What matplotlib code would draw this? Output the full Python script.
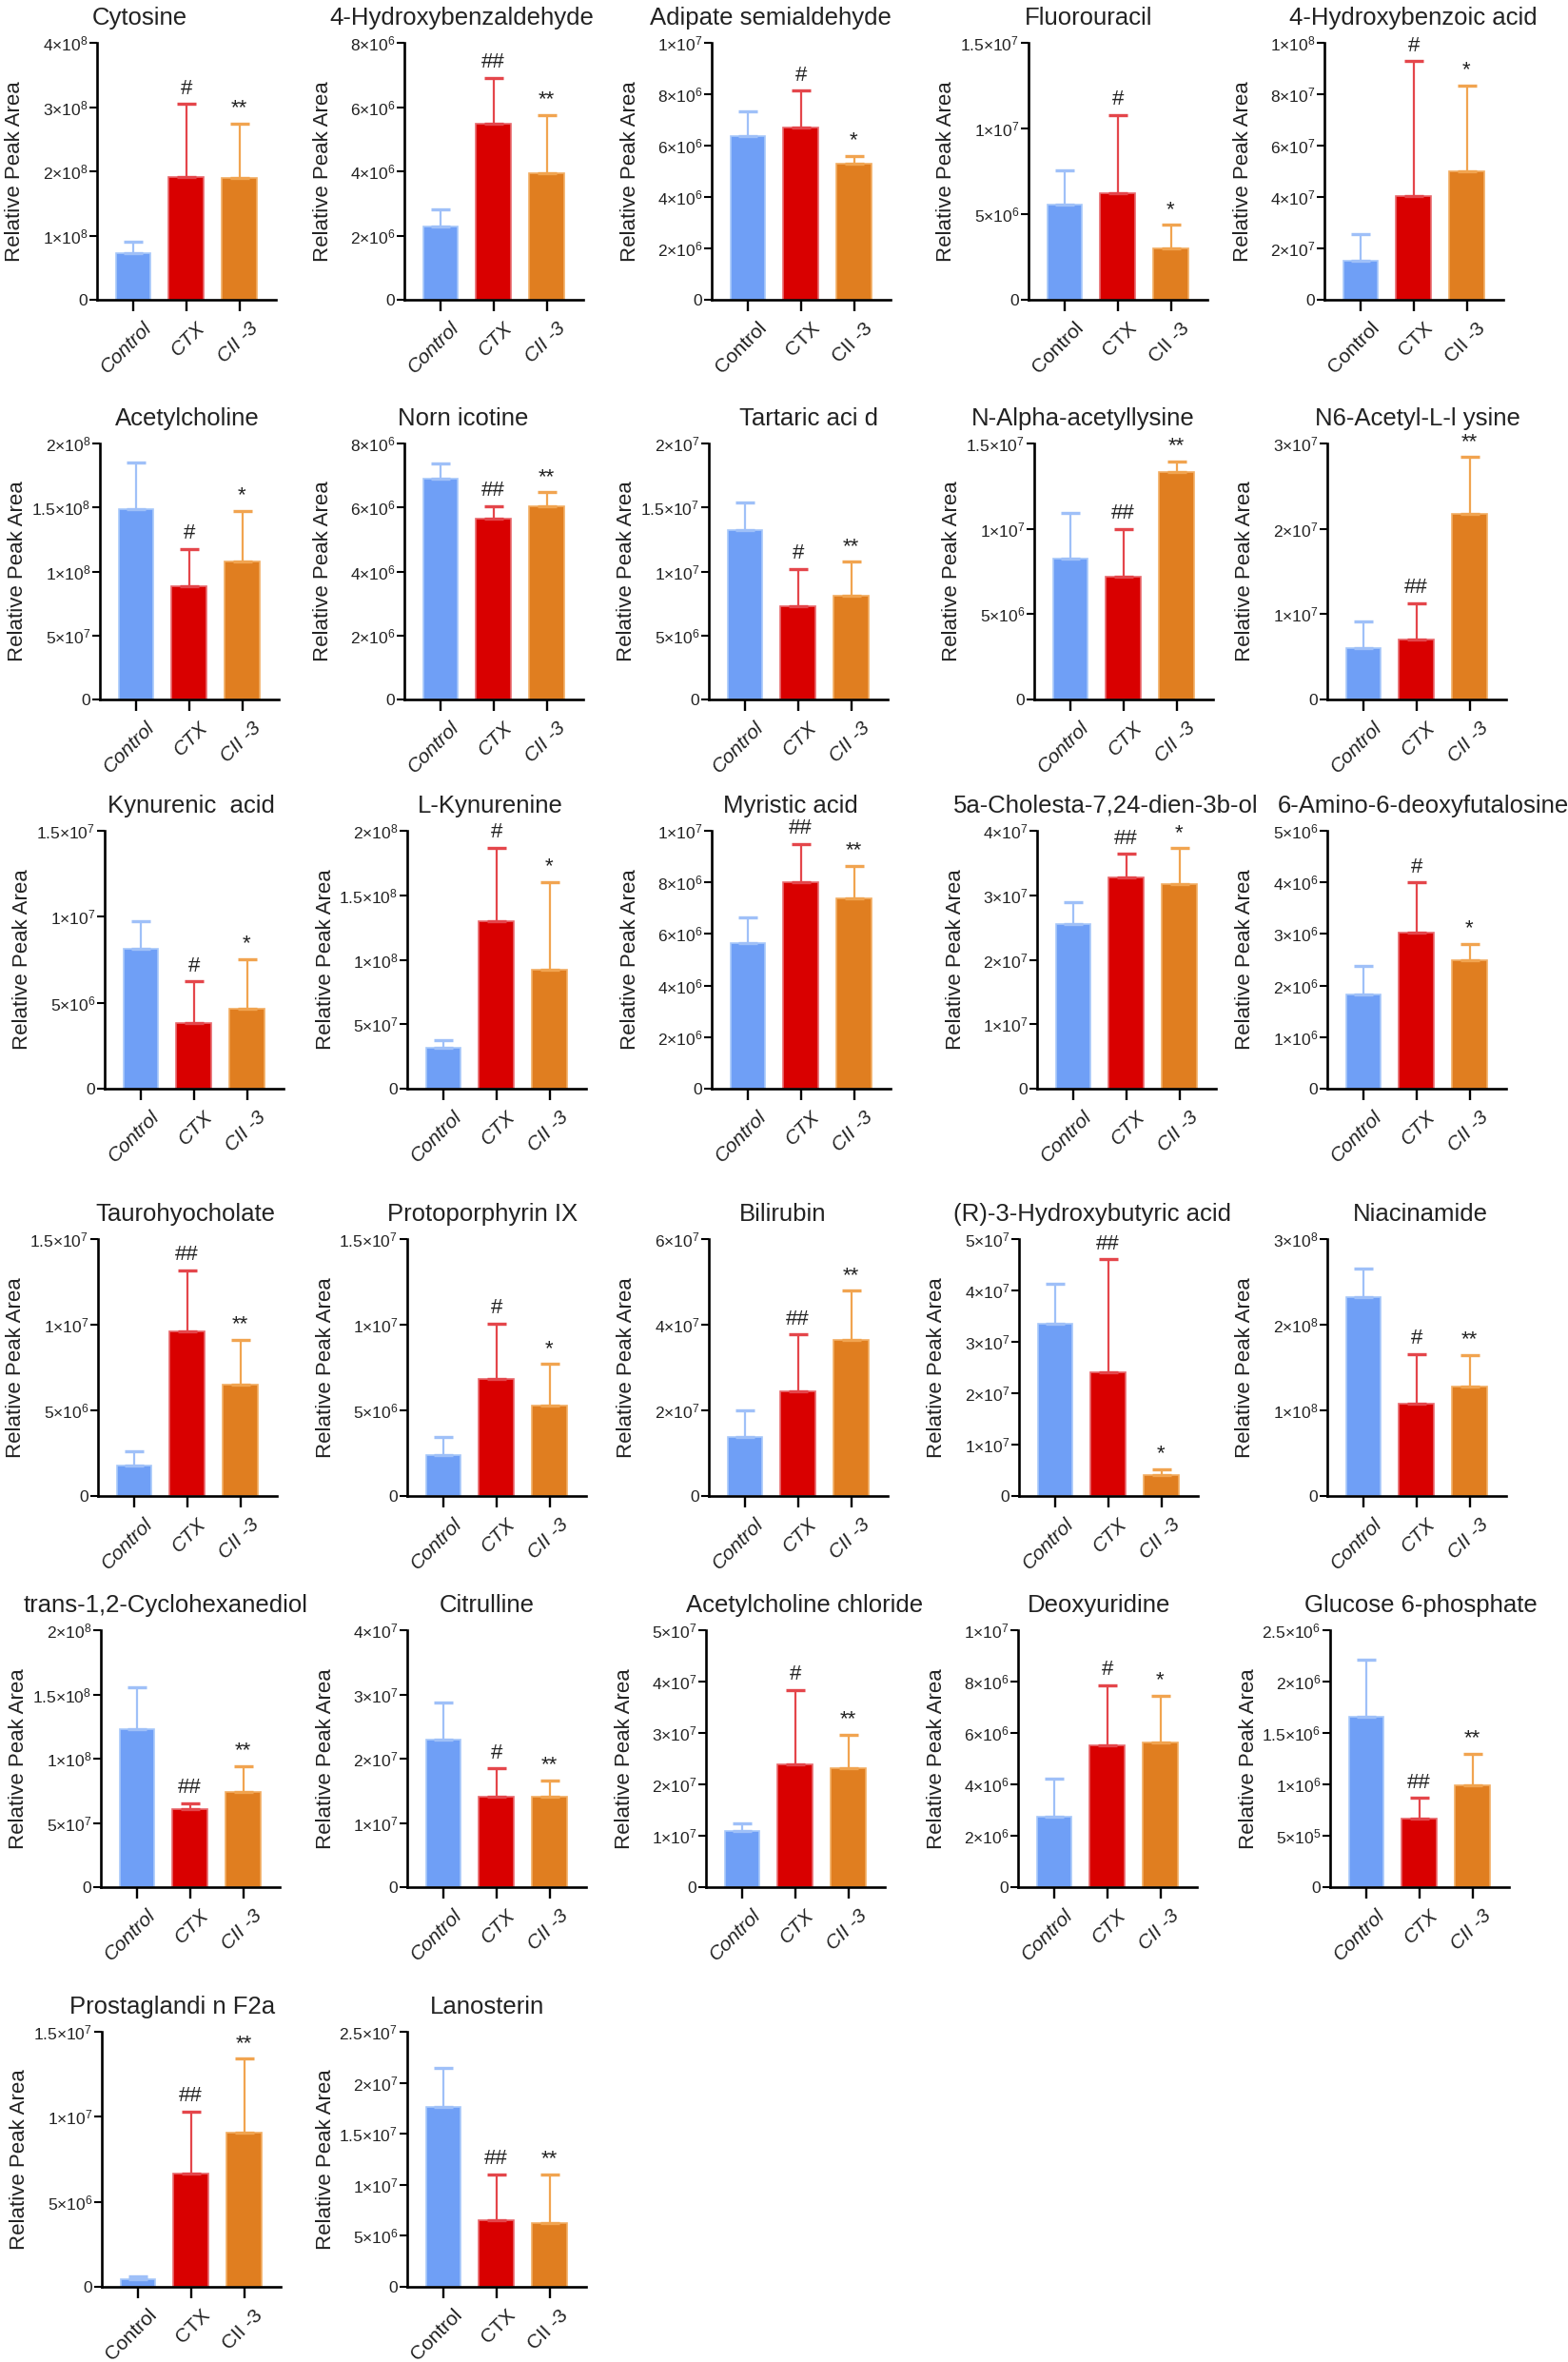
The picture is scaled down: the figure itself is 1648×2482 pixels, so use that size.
import numpy as np
import matplotlib
matplotlib.use('Agg')
import matplotlib.pyplot as plt
from matplotlib.ticker import MultipleLocator, FuncFormatter
from matplotlib.transforms import ScaledTranslation

plt.rcParams['font.family'] = ['Liberation Sans', 'DejaVu Sans']
plt.rcParams['mathtext.fontset'] = 'custom'
plt.rcParams['mathtext.rm'] = 'Liberation Sans'
plt.rcParams['mathtext.it'] = 'Liberation Sans:italic'
plt.rcParams['mathtext.bf'] = 'Liberation Sans:bold'

# ---------------- data ----------------
groups = ['Control', 'CTX', 'CII -3']

metabolites = [
    'Cytosine', '4-Hydroxybenzaldehyde', 'Adipate semialdehyde', 'Fluorouracil', '4-Hydroxybenzoic acid',
    'Acetylcholine', 'Norn icotine', 'Tartaric aci d', 'N-Alpha-acetyllysine', 'N6-Acetyl-L-l ysine',
    'Kynurenic  acid', 'L-Kynurenine', 'Myristic acid', '5a-Cholesta-7,24-dien-3b-ol', '6-Amino-6-deoxyfutalosine',
    'Taurohyocholate', 'Protoporphyrin IX', 'Bilirubin', '(R)-3-Hydroxybutyric acid', 'Niacinamide',
    'trans-1,2-Cyclohexanediol', 'Citrulline', 'Acetylcholine chloride', 'Deoxyuridine', 'Glucose 6-phosphate',
    'Prostaglandi n F2a', 'Lanosterin',
]

ctrl_mean = [7.3e7, 2.27e6, 6.37e6, 5.54e6, 1.51e7,
             1.487e8, 6.91e6, 1.32e7, 8.27e6, 6.06e6,
             8.13e6, 3.2e7, 5.64e6, 2.55e7, 1.82e6,
             1.76e6, 2.41e6, 1.37e7, 3.36e7, 2.32e8,
             1.229e8, 2.3e7, 1.1e7, 2.74e6, 1.654e6,
             4.3e5, 1.767e7]
ctrl_sd = [1.8e7, 0.54e6, 0.96e6, 2.0e6, 1.03e7,
           3.63e7, 0.46e6, 2.2e6, 2.66e6, 3.14e6,
           1.63e6, 5.9e6, 1.01e6, 3.5e6, 0.56e6,
           0.87e6, 1.05e6, 6.2e6, 7.7e6, 3.4e7,
           3.3e7, 5.8e6, 1.4e6, 1.48e6, 0.556e6,
           2.0e5, 3.82e6]
ctx_mean = [1.91e8, 5.47e6, 6.72e6, 6.22e6, 4.05e7,
            8.87e7, 5.64e6, 7.26e6, 7.21e6, 7.06e6,
            3.81e6, 1.298e8, 8.0e6, 3.28e7, 3.02e6,
            9.61e6, 6.81e6, 2.45e7, 2.4e7, 1.08e8,
            6.1e7, 1.41e7, 2.38e7, 5.53e6, 6.67e5,
            6.67e6, 6.49e6]
ctx_sd = [1.14e8, 1.44e6, 1.41e6, 4.57e6, 5.23e7,
          2.9e7, 0.4e6, 2.94e6, 2.79e6, 4.2e6,
          2.42e6, 5.71e7, 1.5e6, 3.6e6, 0.98e6,
          3.56e6, 3.26e6, 1.32e7, 2.21e7, 5.76e7,
          4.5e6, 4.4e6, 1.46e7, 2.33e6, 2.0e5,
          3.63e6, 4.53e6]
cii_mean = [1.9e8, 3.93e6, 5.31e6, 3.02e6, 5.0e7,
            1.078e8, 6.03e6, 8.13e6, 1.333e7, 2.18e7,
            4.64e6, 9.26e7, 7.39e6, 3.18e7, 2.49e6,
            6.48e6, 5.28e6, 3.64e7, 4.0e6, 1.28e8,
            7.41e7, 1.41e7, 2.32e7, 5.63e6, 9.88e5,
            9.05e6, 6.21e6]
cii_sd = [8.4e7, 1.83e6, 0.28e6, 1.35e6, 3.33e7,
          3.97e7, 0.44e6, 2.62e6, 0.61e6, 6.6e6,
          2.88e6, 6.77e7, 1.26e6, 5.5e6, 0.32e6,
          2.63e6, 2.42e6, 1.15e7, 1.2e6, 3.7e7,
          2.0e7, 2.5e6, 6.4e6, 1.83e6, 3.08e5,
          4.36e6, 4.81e6]

y_max = [4e8, 8e6, 1e7, 1.5e7, 1e8,
         2e8, 8e6, 2e7, 1.5e7, 3e7,
         1.5e7, 2e8, 1e7, 4e7, 5e6,
         1.5e7, 1.5e7, 6e7, 5e7, 3e8,
         2e8, 4e7, 5e7, 1e7, 2.5e6,
         1.5e7, 2.5e7]
y_step = [1e8, 2e6, 2e6, 5e6, 2e7,
          5e7, 2e6, 5e6, 5e6, 1e7,
          5e6, 5e7, 2e6, 1e7, 1e6,
          5e6, 5e6, 2e7, 1e7, 1e8,
          5e7, 1e7, 1e7, 2e6, 5e5,
          5e6, 5e6]

sig_ctx = ['#', '##', '#', '#', '#',
           '#', '##', '#', '##', '##',
           '#', '#', '##', '##', '#',
           '##', '#', '##', '##', '#',
           '##', '#', '#', '#', '##',
           '##', '##']
sig_cii = ['**', '**', '*', '*', '*',
           '*', '**', '**', '**', '**',
           '*', '*', '**', '*', '*',
           '**', '*', '**', '*', '**',
           '**', '**', '**', '*', '**',
           '**', '**']

# ---------------- style / layout ----------------
italic_labels = [True, True, False, False, False,
                 True, True, True, True, True,
                 True, True, True, True, True,
                 True, True, True, True, True,
                 True, True, True, True, True,
                 False, False]

bar_colors = ['#6F9FF6', '#D90000', '#E07E20']
err_colors = ['#9FC0F8', '#E4464B', '#F1A450']
edge_colors = ['#A8C8FA', '#E86A6E', '#F2AE64']

row_bounds = [(45, 315), (466, 735), (873, 1144), (1302, 1572), (1713, 1983), (2135, 2403)]
col_lefts = [[102, 425, 748, 1081, 1392],
             [105, 425, 745, 1087, 1395],
             [110, 428, 748, 1090, 1395],
             [103, 428, 745, 1071, 1395],
             [106, 428, 742, 1070, 1398],
             [107, 428]]
title_centers = [[147, 485, 810, 1144, 1485],
                 [197, 487, 850, 1138, 1490],
                 [201, 515, 831, 1162, 1496],
                 [195, 507, 823, 1148, 1493],
                 [174, 512, 846, 1155, 1493],
                 [181, 512]]
AX_W = 188
FIG_W, FIG_H = 1648, 2482
DPI = 100


def fmt_sci(v, pos):
    if v <= 0:
        return '0'
    e = int(np.floor(np.log10(v) + 1e-9))
    m = v / 10 ** e
    ms = f'{m:.2g}'
    return r'$\mathregular{%s{\times}10^{%d}}$' % (ms, e)


fig = plt.figure(figsize=(FIG_W / DPI, FIG_H / DPI), dpi=DPI)
x = np.arange(len(groups))

for i, name in enumerate(metabolites):
    r, c = divmod(i, 5)
    top, bot = row_bounds[r]
    left = col_lefts[r][c]
    ax = fig.add_axes([left / FIG_W, 1 - bot / FIG_H, AX_W / FIG_W, (bot - top) / FIG_H])

    means = [ctrl_mean[i], ctx_mean[i], cii_mean[i]]
    sds = [ctrl_sd[i], ctx_sd[i], cii_sd[i]]

    ax.bar(x, means, width=0.66, color=bar_colors, edgecolor=edge_colors,
           linewidth=1.2, zorder=2)
    for j in range(3):
        ax.errorbar(x[j], means[j], yerr=[[0], [sds[j]]], fmt='none',
                    ecolor=err_colors[j], elinewidth=1.6, capsize=7.5,
                    capthick=2.4, zorder=3)

    ax.annotate(sig_ctx[i], xy=(x[1], means[1] + sds[1]), xytext=(0, 4),
                textcoords='offset points', ha='center', va='bottom',
                fontsize=16, color='#222222', annotation_clip=False)
    ax.annotate(sig_cii[i], xy=(x[2], means[2] + sds[2]), xytext=(0, 4),
                textcoords='offset points', ha='center', va='bottom',
                fontsize=16, color='#222222', annotation_clip=False)

    ax.set_xlim(-0.68, 2.69)
    ax.set_ylim(0, y_max[i])
    ax.yaxis.set_major_locator(MultipleLocator(y_step[i]))
    ax.yaxis.set_major_formatter(FuncFormatter(fmt_sci))

    for s in ['top', 'right']:
        ax.spines[s].set_visible(False)
    for s in ['left', 'bottom']:
        ax.spines[s].set_linewidth(1.9)
        ax.spines[s].set_color('black')

    ax.tick_params(axis='y', direction='out', length=5.5, width=1.5,
                   labelsize=12.5, pad=1.5, colors='black')
    ax.tick_params(axis='x', direction='out', length=8.5, width=1.7,
                   labelsize=15, pad=6, colors='black')
    ax.set_xticks(x)
    ax.set_xticklabels(groups, rotation=45, ha='right', rotation_mode='anchor',
                       fontstyle='italic' if italic_labels[i] else 'normal',
                       color='#222222')
    for lab in ax.get_xticklabels():
        lab.set_transform(lab.get_transform() + ScaledTranslation(10 / DPI, 0, fig.dpi_scale_trans))
    for lab in ax.get_yticklabels():
        lab.set_color('#222222')

    tx = (title_centers[r][c] - left) / AX_W
    ax.set_title(name, x=tx, ha='center', fontsize=18.5, pad=14, color='#222222')
    ax.set_ylabel('Relative Peak Area', fontsize=16, va='center', color='#222222')
    ax.yaxis.set_label_coords(-86 / AX_W, 0.5)

fig.savefig('out.png', dpi=DPI, facecolor='white')
